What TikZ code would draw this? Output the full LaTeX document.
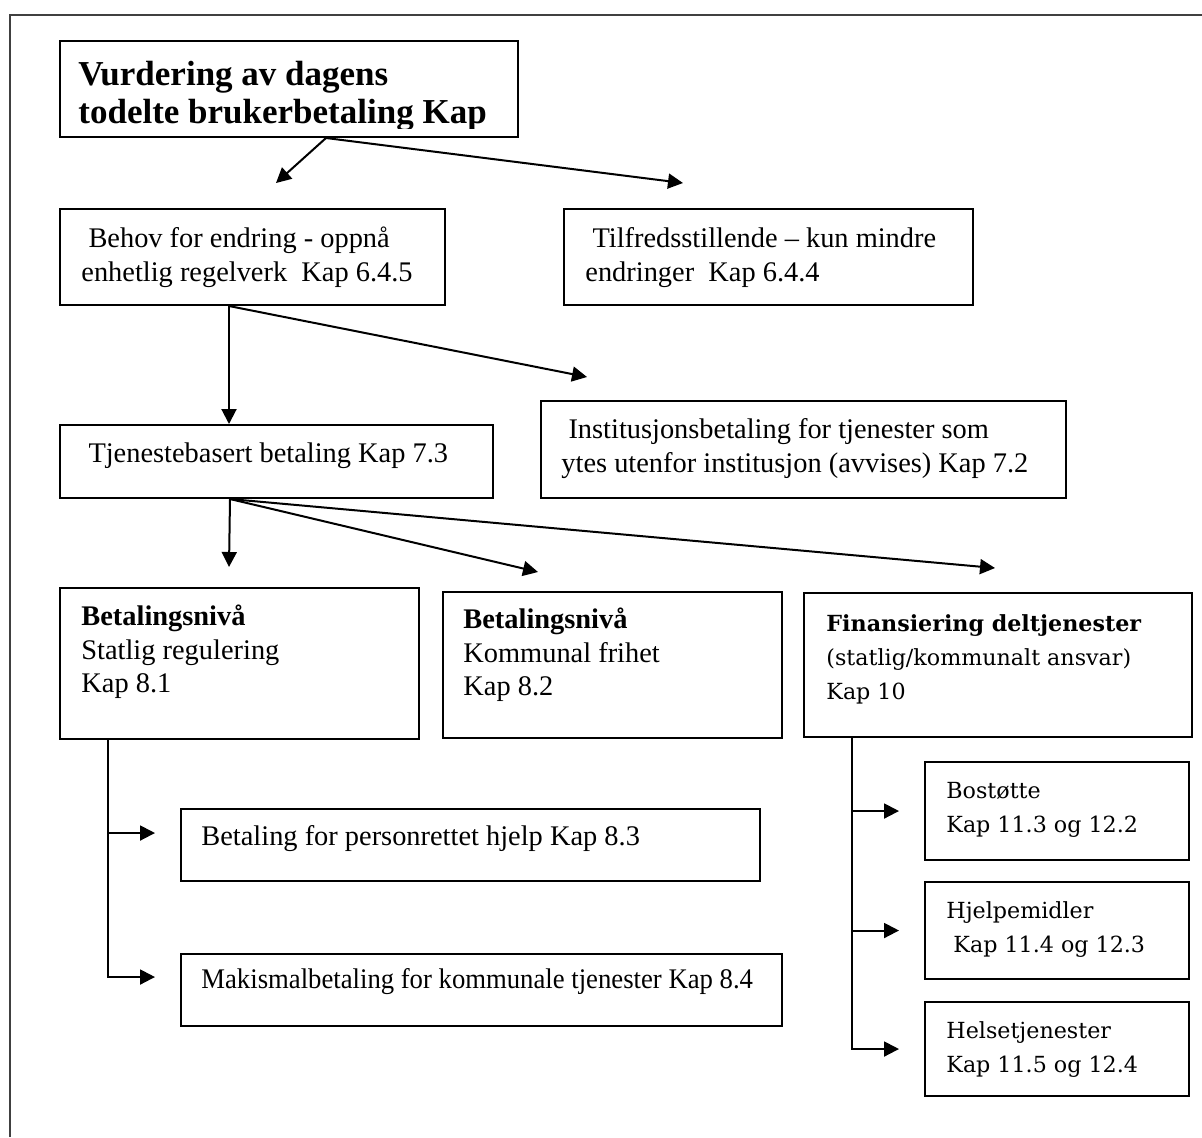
\documentclass[tikz,border=0pt]{standalone}
\usepackage{fontspec}
\usepackage{xcolor}
\usepackage{tikz}
\usetikzlibrary{arrows.meta}
\setmainfont{Liberation Serif}
\newfontfamily\schfont{DejaVu Serif}
\newfontfamily\narrowfont{Liberation Serif}[FakeStretch=0.94]
\definecolor{framegray}{HTML}{404040}
\newcommand\bodyfont{\fontsize{14.2}{16.8}\selectfont}
\newcommand\headfont{\fontsize{17.5}{19}\selectfont\bfseries}
\newcommand\colfont{\schfont\fontsize{11.1}{17}\selectfont}

\begin{document}
\begin{tikzpicture}[x=0.5pt, y=-0.5pt,
    box/.style 2 args={draw, line width=1pt, anchor=north west, inner sep=0pt,
                       minimum width=#1*0.5pt, minimum height=#2*0.5pt},
    txt/.style={anchor=north west, inner sep=0pt, align=left, font=\bodyfont},
    coltxt/.style={txt, font=\colfont},
    arr/.style={line width=1pt, -{Triangle[length=7.5pt, width=7.5pt]}}]
    \useasboundingbox (0,0) rectangle (1202,1137);
    \draw[framegray, line width=1.2pt] (10,1137) |- (1202,15);

    % boxes
    \node[box={458}{96}] (title) at (59,40) {};
    \node[box={385}{96}] (behov) at (59,208) {};
    \node[box={409}{96}] (tilf) at (563,208) {};
    \node[box={433}{73}] (tjen) at (59,424) {};
    \node[box={525}{97}] (inst) at (540,400) {};
    \node[box={359}{151}] (bet1) at (59,587) {};
    \node[box={339}{146}] (bet2) at (442,591) {};
    \node[box={388}{144}] (fin) at (803,592) {};
    \node[box={579}{72}] (betal) at (180,808) {};
    \node[box={601}{72}] (maks) at (180,953) {};
    \node[box={264}{98}] (bos) at (924,761) {};
    \node[box={264}{97}] (hje) at (924,881) {};
    \node[box={264}{94}] (hel) at (924,1001) {};

    % texts
    \begin{scope}
      \clip (title.north west) rectangle ([yshift=5pt]title.south east);
      \node[txt, font=\headfont] (titletxt) at (78,58.4)
        {\strut Vurdering av dagens\\todelte brukerbetaling Kap};
    \end{scope}
    \node[txt] (behovtxt) at (81,223.5)
      {\strut\ Behov for endring - oppnå\\enhetlig regelverk\ \ Kap 6.4.5};
    \node[txt] (tilftxt) at (585,223.5)
      {\strut\ Tilfredsstillende – kun mindre\\endringer\ \ Kap 6.4.4};
    \node[txt] (tjentxt) at (81,438.5) {\strut\ Tjenestebasert betaling Kap 7.3};
    \node[txt] (insttxt) at (561,414.5)
      {\strut\ Institusjonsbetaling for tjenester som\\ytes utenfor institusjon (avvises) Kap 7.2};
    \node[txt] (bet1txt) at (81,601.5)
      {\strut\textbf{Betalingsnivå}\\Statlig regulering\\Kap 8.1};
    \node[txt] (bet2txt) at (463,604.5)
      {\strut\textbf{Betalingsnivå}\\Kommunal frihet\\Kap 8.2};
    \node[txt] (betaltxt) at (201,821.5) {\strut Betaling for personrettet hjelp Kap 8.3};
    \node[txt, font=\narrowfont\bodyfont] (makstxt) at (201,964.5)
      {\strut Makismalbetaling for kommunale tjenester Kap 8.4};
    \node[coltxt] (fintxt) at (826,607.2)
      {\strut\textbf{Finansiering deltjenester}\\(statlig/kommunalt ansvar)\\Kap 10};
    \node[coltxt] (bostxt) at (946,774.2) {\strut Bostøtte\\Kap 11.3 og 12.2};
    \node[coltxt] (hjetxt) at (946,894.2) {\strut Hjelpemidler\\\ Kap 11.4 og 12.3};
    \node[coltxt] (heltxt) at (946,1014.2) {\strut Helsetjenester\\Kap 11.5 og 12.4};

    % arrows
    \coordinate (tsrc) at ([xshift=18.5pt]title.south);
    \coordinate (tipbehov) at (276,183);
    \coordinate (tiptilf) at (683,183);
    \draw[arr] (tsrc) -- (tipbehov);
    \draw[arr] (tsrc) -- (tiptilf);

    \coordinate (bsrc) at ([xshift=-11.75pt]behov.south);
    \coordinate (tipinst) at (587,377);
    \draw[arr] (bsrc) -- (bsrc |- tjen.north);
    \draw[arr] (bsrc) -- (tipinst);

    \coordinate (jsrc) at ([xshift=-23.25pt]tjen.south);
    \coordinate (tipbet1) at (229,567);
    \coordinate (tipbet2) at (538,572);
    \coordinate (tipfin) at (995,568);
    \foreach \t in {tipbet1,tipbet2,tipfin}
      \draw[arr] (jsrc) -- (\t);

    \coordinate (b1src) at ([xshift=24.5pt]bet1.south west);
    \coordinate (tipbetal) at (155,833);
    \coordinate (tipmaks) at (155,977);
    \draw[arr] (b1src) |- (tipmaks);
    \draw[arr] (b1src |- tipbetal) -- (tipbetal);

    \coordinate (fsrc) at ([xshift=24.5pt]fin.south west);
    \coordinate (tipbos) at ([xshift=-12.5pt]bos.west);
    \coordinate (tiphje) at ([xshift=-12.5pt]hje.west);
    \coordinate (tiphel) at ([xshift=-12.5pt]hel.west);
    \draw[arr] (fsrc) |- (tiphel);
    \foreach \t in {tipbos,tiphje}
      \draw[arr] (fsrc |- \t) -- (\t);
\end{tikzpicture}
\end{document}
